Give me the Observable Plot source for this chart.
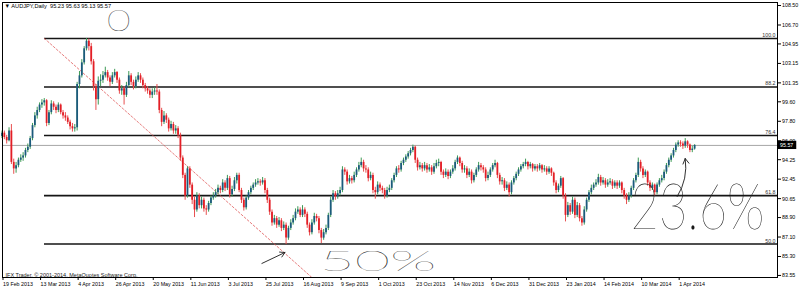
<!DOCTYPE html>
<html>
<head>
<meta charset="utf-8">
<script src="https://cdn.jsdelivr.net/npm/d3@7"></script>
<script src="https://cdn.jsdelivr.net/npm/@observablehq/plot@0.6"></script>
<style>
  html, body { margin: 0; padding: 0; background: #fff; }
  svg { display: block; }
</style>
</head>
<body>
<div id="chart"></div>
<script>
// ---- Daily candles, AUDJPY, 19 Feb 2013 .. 10 Apr 2014 (bar index 0..295) ----
const opens = [
96.4,96.7,96.3,96.0,96.9,94.0,93.4,93.7,94.2,94.4,
94.6,95.1,95.4,96.2,97.4,98.3,98.8,99.3,99.5,99.7,
97.6,98.6,99.4,99.1,98.8,99.3,98.6,98.3,98.1,97.7,
97.3,97.1,97.2,101.2,102.0,103.2,104.5,105.2,104.7,103.3,
101.0,99.8,101.5,101.6,102.0,102.3,101.8,101.4,102.0,102.3,
101.6,100.6,100.8,100.2,101.1,102.0,101.4,101.0,101.6,102.0,
101.6,101.1,100.8,100.6,100.2,100.5,100.6,100.5,98.8,97.7,
98.3,97.9,97.1,97.5,96.9,97.1,96.5,94.4,92.8,90.9,
93.4,91.9,90.5,89.6,90.9,90.0,90.5,89.7,89.6,90.2,
90.7,90.9,91.2,91.6,91.4,92.1,91.6,92.5,91.0,91.5,
92.3,92.8,91.4,90.5,89.8,90.7,91.2,91.6,91.9,92.1,
92.2,92.1,92.3,91.4,90.5,89.4,88.4,88.8,88.2,88.6,
87.9,88.2,87.0,87.9,88.4,88.8,89.4,89.6,89.1,89.6,
89.2,88.2,87.5,88.4,89.0,88.8,87.7,87.0,87.5,87.9,
89.1,90.5,91.1,90.8,91.1,91.4,93.3,93.1,92.2,92.5,
92.3,92.8,93.3,93.7,94.0,93.4,93.3,92.5,92.8,91.4,
91.2,91.9,91.6,91.4,90.9,91.4,91.6,92.3,92.8,93.4,
93.3,93.9,94.2,94.5,94.8,95.1,95.4,94.2,93.5,93.7,
93.4,93.7,93.3,93.5,93.1,93.6,93.9,94.0,93.1,92.8,
93.1,92.7,93.1,93.4,94.0,94.4,93.9,93.3,93.4,92.8,
93.1,92.3,92.8,93.3,93.7,93.5,93.3,92.5,92.8,93.3,
93.7,93.9,92.8,92.2,92.3,91.6,91.9,91.2,92.1,92.5,
92.9,93.3,93.6,93.8,94.0,93.6,93.8,93.4,93.6,93.4,
93.7,93.3,93.4,93.1,93.4,93.0,92.1,91.4,91.8,92.5,
90.9,89.1,90.0,89.4,90.5,89.1,90.0,88.8,88.4,89.6,
90.5,91.2,91.6,91.9,92.1,92.6,92.1,92.3,91.9,92.1,
92.2,91.8,92.1,91.8,92.1,91.4,90.9,90.5,90.9,91.6,
92.3,92.8,94.0,93.4,92.8,93.1,92.1,91.6,91.9,91.2,
91.9,92.3,92.5,93.1,93.7,94.2,94.6,95.1,95.6,95.8,
95.7,95.5,95.9,95.6,95.1,95.23
];
const highs = [
96.9,96.9,96.5,97.2,97.5,94.3,94.0,94.4,94.7,94.9,
95.3,95.7,96.4,97.6,98.6,99.1,99.5,99.8,99.9,99.8,
98.8,99.7,99.6,99.3,99.5,99.4,98.8,98.6,98.3,97.9,
97.6,97.5,101.4,102.4,103.5,104.7,105.45,105.4,105.0,103.5,
101.2,101.9,102.1,102.4,102.8,102.5,102.0,102.3,102.6,102.4,
101.8,101.1,101.0,101.4,102.4,102.2,101.6,101.9,102.3,102.2,
101.8,101.3,101.0,100.8,100.8,100.9,101.2,100.7,99.0,98.7,
98.5,98.1,97.8,97.7,97.4,97.3,96.7,94.6,93.0,93.6,
93.6,92.1,90.8,91.2,91.1,90.8,90.7,90.0,90.4,90.9,
91.2,91.5,91.9,91.8,92.4,92.3,92.8,92.7,91.8,92.6,
93.0,93.0,91.6,90.7,90.9,91.4,91.8,92.1,92.4,92.5,
92.4,92.6,92.5,91.6,90.7,89.6,89.1,89.0,88.9,88.8,
88.5,88.4,88.1,88.7,89.1,89.7,89.9,89.8,90.0,89.8,
89.4,88.4,88.7,89.3,89.2,89.0,87.9,87.8,88.2,89.3,
90.8,91.4,91.3,91.4,91.7,93.6,93.5,93.3,92.8,92.7,
93.1,93.5,94.0,94.4,94.2,93.7,93.5,93.1,93.0,91.7,
92.2,92.1,91.8,91.6,91.7,91.9,92.5,93.0,93.6,93.7,
94.1,94.4,94.7,95.0,95.3,95.6,95.5,94.4,94.0,93.9,
94.0,93.9,93.8,93.7,93.9,94.2,94.3,94.1,93.3,93.4,
93.3,93.3,93.7,94.2,94.6,94.5,94.1,93.7,93.6,93.4,
93.3,93.0,93.5,94.0,93.9,93.7,93.5,93.1,93.5,93.9,
94.2,94.0,93.0,92.6,92.5,92.2,92.1,92.3,92.7,93.1,
93.5,93.8,94.0,94.3,94.1,94.0,93.9,93.8,93.8,93.9,
93.8,93.7,93.6,93.6,93.5,93.1,92.3,92.0,92.7,92.6,
91.1,90.3,90.2,90.8,90.7,90.3,90.2,89.0,89.9,90.7,
91.4,91.9,92.1,92.4,92.9,92.8,92.6,92.5,92.4,92.5,
92.4,92.3,92.3,92.3,92.2,91.6,91.1,91.2,91.8,92.5,
93.0,94.4,94.2,93.6,93.3,93.2,92.3,92.1,92.0,92.1,
92.5,92.8,93.3,93.9,94.4,94.8,95.3,95.8,96.0,96.0,
95.9,96.2,96.0,95.7,95.5,95.63
];
const lows = [
96.2,96.1,95.7,95.9,93.8,92.9,93.0,93.5,94.0,94.1,
94.4,94.9,95.2,96.0,97.2,98.0,98.6,99.0,99.2,97.3,
97.4,98.4,98.8,98.5,98.6,98.4,98.0,97.8,97.5,97.0,
96.8,96.8,96.9,100.8,101.8,103.0,104.3,104.3,103.0,100.6,
98.8,99.3,101.0,101.3,101.8,101.5,101.0,101.2,101.8,101.3,
100.3,100.2,99.3,100.0,100.9,101.1,100.7,100.8,101.4,101.3,
100.8,100.5,100.3,99.9,99.9,100.2,100.2,98.5,97.3,97.5,
97.6,96.8,96.9,96.6,96.6,96.2,94.1,92.5,90.5,90.7,
91.6,90.1,88.9,89.4,89.7,89.7,89.4,89.1,89.4,90.0,
90.5,90.7,91.0,91.1,91.2,91.3,91.4,90.7,90.8,91.3,
92.0,91.2,90.2,89.5,89.6,90.5,91.0,91.4,91.7,91.9,
91.8,91.9,91.1,90.2,89.1,88.1,88.2,87.9,88.0,87.6,
87.7,86.4,86.8,87.7,88.2,88.6,89.2,88.9,88.9,88.9,
87.9,87.2,87.3,88.2,88.5,87.4,86.5,86.8,87.3,87.7,
88.9,90.3,90.5,90.6,90.9,91.2,92.8,91.9,92.0,92.0,
92.1,92.6,93.1,93.5,93.1,93.0,92.2,92.3,91.1,90.6,
91.0,91.3,91.1,90.6,90.7,91.2,91.4,92.1,92.6,93.0,
93.1,93.7,94.0,94.3,94.6,94.9,93.9,93.2,93.3,93.1,
93.2,93.0,93.1,92.8,92.9,93.4,93.6,92.8,92.5,92.6,
92.4,92.5,92.9,93.2,93.8,93.6,93.0,93.0,92.5,92.6,
92.0,92.1,92.6,93.1,93.2,93.0,92.2,92.3,92.6,93.1,
93.5,92.5,91.9,91.9,91.3,91.4,90.8,91.0,91.9,92.3,
92.7,93.1,93.4,93.6,93.3,93.4,93.1,93.2,93.1,93.2,
93.0,93.1,92.8,92.9,92.7,91.8,91.1,91.2,91.6,90.6,
88.5,88.9,89.1,89.2,88.8,88.9,88.5,88.1,88.2,89.4,
90.3,91.0,91.4,91.7,91.9,91.8,91.9,91.6,91.7,91.9,
91.5,91.6,91.5,91.6,91.1,90.6,90.1,90.3,90.7,91.4,
92.1,92.6,93.1,92.5,92.6,91.8,91.3,91.4,90.9,91.0,
91.7,92.1,92.3,92.9,93.5,94.0,94.4,94.9,95.4,95.4,
95.2,95.3,95.3,94.9,94.9,95.13
];
const closes = [
96.7,96.3,96.0,96.9,94.0,93.4,93.7,94.2,94.4,94.6,
95.1,95.4,96.2,97.4,98.3,98.8,99.3,99.5,99.7,97.6,
98.6,99.4,99.1,98.8,99.3,98.6,98.3,98.1,97.7,97.3,
97.1,97.2,101.2,102.0,103.2,104.5,105.2,104.7,103.3,101.0,
99.8,101.5,101.6,102.0,102.3,101.8,101.4,102.0,102.3,101.6,
100.6,100.8,100.2,101.1,102.0,101.4,101.0,101.6,102.0,101.6,
101.1,100.8,100.6,100.2,100.5,100.6,100.5,98.8,97.7,98.3,
97.9,97.1,97.5,96.9,97.1,96.5,94.4,92.8,90.9,93.4,
91.9,90.5,89.6,90.9,90.0,90.5,89.7,89.6,90.2,90.7,
90.9,91.2,91.6,91.4,92.1,91.6,92.5,91.0,91.5,92.3,
92.8,91.4,90.5,89.8,90.7,91.2,91.6,91.9,92.1,92.2,
92.1,92.3,91.4,90.5,89.4,88.4,88.8,88.2,88.6,87.9,
88.2,87.0,87.9,88.4,88.8,89.4,89.6,89.1,89.6,89.2,
88.2,87.5,88.4,89.0,88.8,87.7,87.0,87.5,87.9,89.1,
90.5,91.1,90.8,91.1,91.4,93.3,93.1,92.2,92.5,92.3,
92.8,93.3,93.7,94.0,93.4,93.3,92.5,92.8,91.4,91.2,
91.9,91.6,91.4,90.9,91.4,91.6,92.3,92.8,93.4,93.3,
93.9,94.2,94.5,94.8,95.1,95.4,94.2,93.5,93.7,93.4,
93.7,93.3,93.5,93.1,93.6,93.9,94.0,93.1,92.8,93.1,
92.7,93.1,93.4,94.0,94.4,93.9,93.3,93.4,92.8,93.1,
92.3,92.8,93.3,93.7,93.5,93.3,92.5,92.8,93.3,93.7,
93.9,92.8,92.2,92.3,91.6,91.9,91.2,92.1,92.5,92.9,
93.3,93.6,93.8,94.0,93.6,93.8,93.4,93.6,93.4,93.7,
93.3,93.4,93.1,93.4,93.0,92.1,91.4,91.8,92.5,90.9,
89.1,90.0,89.4,90.5,89.1,90.0,88.8,88.4,89.6,90.5,
91.2,91.6,91.9,92.1,92.6,92.1,92.3,91.9,92.1,92.2,
91.8,92.1,91.8,92.1,91.4,90.9,90.5,90.9,91.6,92.3,
92.8,94.0,93.4,92.8,93.1,92.1,91.6,91.9,91.2,91.9,
92.3,92.5,93.1,93.7,94.2,94.6,95.1,95.6,95.8,95.7,
95.5,95.9,95.6,95.1,95.23,95.57
];

// ---- Axis ticks ----
const xTickIdx = [0,16,32,48,64,80,96,112,128,144,160,176,192,208,224,240,256,272,288];
const xTickLabels = ["19 Feb 2013","13 Mar 2013","4 Apr 2013","26 Apr 2013","20 May 2013","11 Jun 2013",
  "3 Jul 2013","25 Jul 2013","16 Aug 2013","9 Sep 2013","1 Oct 2013","23 Oct 2013","14 Nov 2013",
  "6 Dec 2013","31 Dec 2013","23 Jan 2014","14 Feb 2014","10 Mar 2014","1 Apr 2014"];
const yTicks = [108.50,106.70,104.95,103.15,101.35,99.60,97.80,96.00,94.25,92.45,90.65,88.90,87.10,85.30,83.55];

// ---- Fibonacci retracement drawn on the chart ----
const fibLevels = [105.45, 100.97, 96.48, 90.93, 86.45];
const fibLabels = ["100.0", "88.2", "76.4", "61.8", "50.0"];
const fibStartIdx = 18.1;
const fibTrend = [{i: 18.1, p: 105.45}, {i: 214, p: 67.45}];

// ---- Header, footer, last price ----
const lastPrice = 95.57;
const titleText = "\u25BC AUDJPY,Daily  95.23 95.63 95.13 95.57";
const copyrightText = "IFX Trader, \u00A9 2001-2014, MetaQuotes Software Corp.";

// ---- Hand-drawn notes ----
const handNotes = [
  {text: "0",     i: 49.7,  p: 106.19, size: 30, width: 24},
  {text: "23.6%", i: 296.2, p: 87.8,   size: 64, width: 134},
  {text: "50%",   i: 160.1, p: 83.95,  size: 28, width: 117}
];
const handArrowStraight = [{i1: 110.7, p1: 84.66, i2: 120.5, p2: 85.67}];
const handArrowCurved = [{i1: 287.6, p1: 90.85, i2: 291.0, p2: 94.36}];

// ---- Layout constants ----
const xDomain = [0.213, 330.3];
const yDomain = [83.36, 108.78];
const xMax = xDomain[1];

const bars = closes.map((c, i) => ({i, o: opens[i], h: highs[i], l: lows[i], c, up: c >= opens[i]}));
const fibData = fibLevels.map((p, k) => ({p, label: fibLabels[k]}));

const FONT = "'Liberation Sans', Arial, sans-serif";
const HAND = "Lato, 'Noto Sans', sans-serif";

const svg = Plot.plot({
  width: 800,
  height: 288,
  marginTop: 2,
  marginBottom: 11,
  marginLeft: 2,
  marginRight: 23,
  x: {domain: xDomain},
  y: {domain: yDomain},
  style: {background: "#fff", color: "#000", fontFamily: FONT, fontSize: "6px", overflow: "visible"},
  marks: [
    // current price line
    Plot.ruleY([lastPrice], {stroke: "#a6a6a6", strokeWidth: 1}),
    // fibonacci levels
    Plot.ruleY(fibData, {y: "p", x1: fibStartIdx, x2: xMax, stroke: "#151515", strokeWidth: 1.6}),
    Plot.text(fibData, {x: xMax, y: "p", text: "label", textAnchor: "end", lineAnchor: "bottom",
      dx: -2, dy: -1.5, fontSize: 6.2, fill: "#333", fontFamily: FONT}),
    // fibonacci trend line
    Plot.line(fibTrend, {x: "i", y: "p", stroke: "#e05a5a", strokeWidth: 0.8, strokeDasharray: "2,2", clip: true}),
    // candles: wicks then bodies
    Plot.ruleX(bars, {x: "i", y1: "l", y2: "h", stroke: d => d.up ? "#3d9a55" : "#e85050", strokeWidth: 1}),
    Plot.ruleX(bars, {x: "i", y1: "o", y2: "c", stroke: d => d.up ? "#1b5a7c" : "#e31e26", strokeWidth: 1.8}),
    // frame and axes
    Plot.frame({stroke: "#000", strokeWidth: 1}),
    Plot.axisX(xTickIdx, {anchor: "bottom", tickSize: 3, tickPadding: 1, textAnchor: "start", dx: 1,
      tickFormat: d => xTickLabels[xTickIdx.indexOf(d)], fontSize: 6.2, fontFamily: FONT}),
    Plot.axisY(yTicks, {anchor: "right", tickSize: 3, tickPadding: 1.5,
      tickFormat: d => d.toFixed(2), fontSize: 5.8, fontFamily: FONT}),
    // last price box on the price scale
    Plot.rect([lastPrice], {x1: xMax, x2: xMax + 8.2, y1: d => d - 0.38, y2: d => d + 0.38, fill: "#000"}),
    Plot.text([lastPrice], {x: xMax, y: d => d, text: d => d.toFixed(2), fill: "#fff",
      textAnchor: "start", dx: 2.5, fontSize: 5.8, fontFamily: FONT}),
    // header and footer
    Plot.text([titleText], {frameAnchor: "top-left", dx: 2, dy: 1.5, fontSize: 6, fill: "#000", fontFamily: FONT}),
    Plot.text([copyrightText], {frameAnchor: "bottom-left", dx: 3, dy: -1, fontSize: 6, fill: "#222", fontFamily: FONT}),
    // hand-drawn notes
    Plot.text(handNotes, {x: "i", y: "p", text: "text", fontSize: "size", textAnchor: "middle",
      lineAnchor: "bottom", fill: "#1a1a1a", fontFamily: HAND, fontWeight: 100}),
    Plot.arrow(handArrowStraight, {x1: "i1", y1: "p1", x2: "i2", y2: "p2", stroke: "#1a1a1a",
      strokeWidth: 0.9, headLength: 9}),
    Plot.arrow(handArrowCurved, {x1: "i1", y1: "p1", x2: "i2", y2: "p2", stroke: "#1a1a1a",
      strokeWidth: 0.9, headLength: 10, bend: -20})
  ]
});

document.getElementById("chart").appendChild(svg);

// The terminal's small labels are narrower than any installed face: squeeze them
// horizontally, and stretch the hand-written notes to their drawn widths.
d3.select(svg).selectAll("text").each(function () {
  const t = this.textContent;
  const note = handNotes.find(h => h.text === t);
  const w = this.getBBox().width;
  let f = 1;
  if (note) f = note.width / w;
  else if (t === titleText) f = 0.94;
  else if (t === copyrightText) f = 0.92;
  else if (xTickLabels.includes(t)) f = 0.86;
  else if (fibLabels.includes(t)) f = 0.85;
  else f = 0.92;
  if (f !== 1 && w > 0) {
    const tr = this.getAttribute("transform");
    if (tr) this.setAttribute("transform", tr + ` scale(${f},1)`);
    else {
      this.setAttribute("textLength", w * f);
      this.setAttribute("lengthAdjust", "spacingAndGlyphs");
    }
  }
});
</script>
</body>
</html>
